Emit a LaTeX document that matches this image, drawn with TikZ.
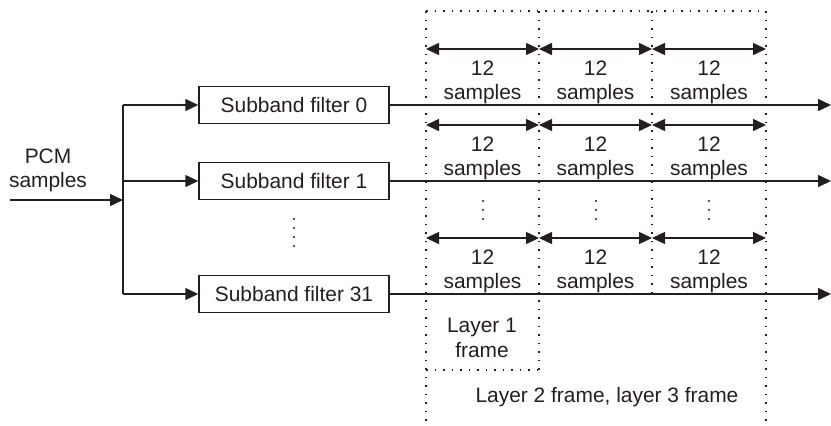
\documentclass[tikz,border=0pt]{standalone}
\usepackage{fontspec}
\setmainfont{Liberation Sans}
\usetikzlibrary{arrows.meta}
\definecolor{ink}{HTML}{231F20}
\begin{document}
\begin{tikzpicture}[x=1bp,y=-1bp,
  line width=1.5bp, ink,
  txt/.style={font=\fontsize{21}{25}\selectfont, text=ink, inner sep=0pt},
  filterbox/.style={draw, minimum width=190bp, minimum height=37bp, inner sep=0pt,
     font=\fontsize{21}{25}\selectfont, text=ink},
  arr/.style={-{Triangle[length=13bp,width=12bp]}},
  darr/.style={{Triangle[length=13bp,width=12bp]}-{Triangle[length=13bp,width=12bp]}},
  frameline/.style={line width=1.6bp, dash pattern=on 1.6bp off 6.9bp},
  dotmark/.style={circle, fill=ink, inner sep=0pt, minimum size=2.4bp}]
\useasboundingbox (0,0) rectangle (831,425);

% input
\node[txt, anchor=base] (pcm) at (48,163) {PCM};
\node[txt, anchor=base] (pcms) at (48,187) {samples};
\coordinate (in) at (10,200);
\coordinate (bus) at (123,200);
\coordinate (bustop) at (123,105);
\coordinate (busbot) at (123,294);
\coordinate (bus1) at (123,181);
\draw[arr] (in) -- (bus);
\draw (bustop) -- (busbot);

% filters
\node[filterbox] (f0) at (294,105) {Subband filter 0};
\node[filterbox] (f1) at (294,181) {Subband filter 1};
\node[filterbox] (f31) at (294,294) {Subband filter 31};
\draw[arr] (bustop) -- (f0.west);
\draw[arr] (bus1) -- (f1.west);
\draw[arr] (busbot) -- (f31.west);

% vertical dots between filters
\foreach \yy in {219,228,237,246} \node[dotmark] at (294,\yy) {};

% outputs
\coordinate (o0) at (831,105);
\coordinate (o1) at (831,181);
\coordinate (o31) at (831,294);
\draw[arr] (f0.east) -- (o0);
\draw[arr] (f1.east) -- (o1);
\draw[arr] (f31.east) -- (o31);

% frame grid
\coordinate (c0t) at (426,11);
\coordinate (c1t) at (539,11);
\coordinate (c2t) at (652,11);
\coordinate (c3t) at (766,11);
\coordinate (c0b) at (426,425);
\coordinate (c1b) at (539,370);
\coordinate (c2b) at (652,297);
\coordinate (c3b) at (766,425);
\coordinate (l1b) at (426,370);
\draw[frameline] (c0t) -- (c3t);
\draw[frameline] (c0t) -- (c0b);
\draw[frameline] (c1t) -- (c1b);
\draw[frameline] (c2t) -- (c2b);
\draw[frameline] (c3t) -- (c3b);
\draw[frameline] (l1b) -- (c1b);

% sample spans
\foreach \r/\yy in {a/49,b/125,c/238}{
  \foreach \i/\xa/\xb in {1/426/539,2/539/652,3/652/766}{
    \coordinate (s\r\i l) at (\xa,\yy);
    \coordinate (s\r\i r) at (\xb,\yy);
    \draw[darr] (s\r\i l) -- (s\r\i r);
    \node[txt, anchor=base] (n\r\i) at ({(\xa+\xb)/2},\yy+26) {12};
    \node[txt, anchor=base] (m\r\i) at ({(\xa+\xb)/2},\yy+50) {samples};
  }
}

% column dots
\foreach \xx in {483,596,709}
  \foreach \yy in {201,210,219} \node[dotmark] at (\xx,\yy) {};

% labels
\node[txt, anchor=base] (l1a) at (482,332) {Layer 1};
\node[txt, anchor=base] (l1c) at (482,357) {frame};
\node[txt, anchor=base] (l23) at (607,402) {Layer 2 frame, layer 3 frame};
\end{tikzpicture}
\end{document}
